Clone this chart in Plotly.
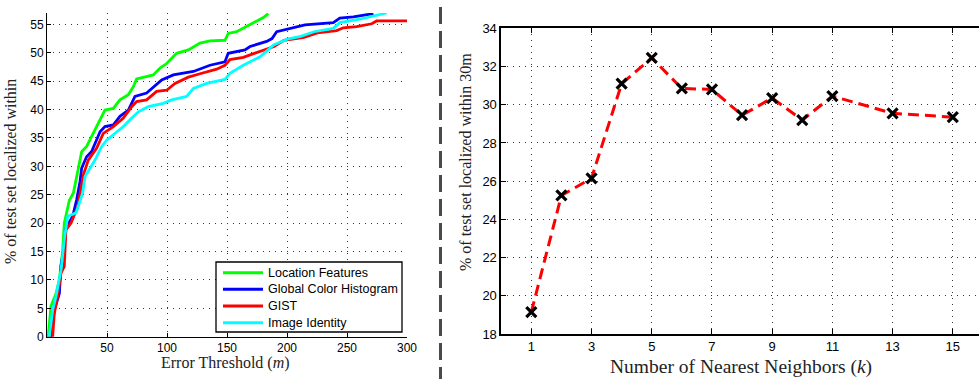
import plotly.graph_objects as go

# ---- Left panel: cumulative localization accuracy vs. error threshold ----
loc_x = [0, 1, 3.3, 7.5, 10.3, 13, 14.4, 18.6, 22, 26, 28.9, 33, 38.6, 44.2, 48.3, 55.3, 60.8, 67.8,
         71.9, 74.7, 88.6, 94.2, 99.7, 108, 117.8, 127.5, 135.8, 148.3, 151, 158, 166.4, 174.7, 180.3, 184.4]
loc_y = [0, 0, 5.4, 7.6, 10, 15, 20, 24, 25.3, 29.4, 32.6, 33.5, 35.8, 38.2, 39.9, 40.2, 41.7, 42.6,
         44, 45.4, 46.1, 47.3, 48.1, 49.9, 50.5, 51.7, 52.1, 52.2, 53.4, 53.7, 54.6, 55.5, 56.2, 56.9]

gch_x = [0, 3.3, 6.1, 10.3, 11.7, 14.4, 15.8, 21.4, 24.7, 27.5, 28.9, 33, 37.2, 41.4, 44.2, 48.3, 55.3,
         60.8, 67.8, 73.3, 83, 95.6, 105.3, 122, 135.8, 148.3, 151, 165, 169.2, 183, 187.5, 191.4, 202.5,
         215, 238.6, 244, 255.3, 269, 272]
gch_y = [0, 0, 4.7, 7.6, 12.6, 15.9, 19.1, 21.2, 24.1, 27.3, 29.7, 31.7, 32.6, 34.6, 36.1, 37, 37.3,
         38.8, 39.9, 42.3, 42.9, 45.2, 46.1, 46.7, 47.8, 48.4, 49.9, 50.5, 51.1, 52, 52.5, 53.7, 54.3,
         54.9, 55.3, 56.1, 56.3, 56.8, 56.9]

gist_x = [0, 4.7, 6.1, 8.9, 11.7, 14.4, 15.8, 20, 25.6, 27.5, 30.3, 34.4, 41.4, 46.9, 55.3, 63.6, 70.6,
          74.7, 83, 91.4, 99.7, 106.7, 117.8, 127.5, 141.4, 148.3, 152.5, 163.6, 177.5, 189.2, 197.5,
          214.2, 225.3, 241.4, 246.9, 258, 270.6, 274.7, 300]
gist_y = [0, 0, 4.1, 7.1, 11.2, 12.4, 18.8, 20, 22.9, 25.3, 28.5, 31.1, 33.2, 35.8, 37, 38.5, 40.5,
          41.4, 41.7, 43.2, 43.4, 44.6, 45.7, 46.3, 47.1, 47.8, 48.8, 49.2, 50.2, 51.1, 52.2,
          52.7, 53.5, 53.9, 54.4, 54.6, 55.1, 55.6, 55.6]

iid_x = [0, 1.9, 4.7, 7.5, 11.7, 14.4, 17.2, 24.2, 29.7, 31.7, 40, 45.6, 49.7, 56.7, 63.6, 70.6, 76.1,
         84.4, 96.9, 103.9, 116.4, 122, 133, 148.3, 152.5, 163.6, 177.5, 189.2, 200.3, 211.4, 222.5,
         238.6, 244, 260.6, 280.3, 283]
iid_y = [0, 0, 4.7, 7.1, 11.8, 17.1, 21.2, 21.8, 25.3, 28.2, 31.1, 33.5, 34.6, 35.8, 37, 38.5, 39.6,
         40.5, 41.1, 41.7, 42.3, 43.7, 44.6, 45.3, 46.4, 47.8, 49.3, 51.4, 52.4, 52.9, 53.7,
         54.3, 55.3, 55.9, 56.8, 57]

series_names = ["Location Features", "Global Color Histogram", "GIST", "Image Identity"]
series_colors = ["#00ff00", "#0000ff", "#ff0000", "#00ffff"]
left_series = list(zip(series_names,
                       [loc_x, gch_x, gist_x, iid_x],
                       [loc_y, gch_y, gist_y, iid_y],
                       series_colors))
left_xticks = [50, 100, 150, 200, 250, 300]
left_yticks = [0, 5, 10, 15, 20, 25, 30, 35, 40, 45, 50, 55]

# ---- Right panel: accuracy within 30m vs. number of nearest neighbours ----
k_values = [1, 2, 3, 4, 5, 6, 7, 8, 9, 10, 11, 13, 15]
pct_within_30m = [19.15, 25.25, 26.15, 31.1, 32.45, 30.85, 30.8, 29.45, 30.35, 29.2, 30.45, 29.55, 29.35]
right_xticks = [1, 3, 5, 7, 9, 11, 13, 15]
right_yticks = [18, 20, 22, 24, 26, 28, 30, 32, 34]

W, H = 979, 379
SANS = "Liberation Sans, Arial, sans-serif"
SERIF = "Liberation Serif, Times New Roman, serif"


def px_x(p):
    return p / W


def px_y(p):
    return (H - p) / H


fig = go.Figure()

for name, xs, ys, col in left_series:
    fig.add_trace(go.Scatter(x=xs, y=ys, mode="lines", name=name,
                             line=dict(color=col, width=2.8),
                             xaxis="x", yaxis="y", showlegend=False))

fig.add_trace(go.Scatter(x=k_values, y=pct_within_30m, mode="lines+markers",
                         showlegend=False,
                         line=dict(color="#ff0000", width=3, dash="11px,6px"),
                         marker=dict(symbol="x-thin", size=10, color="black",
                                     line=dict(color="black", width=3.2)),
                         xaxis="x2", yaxis="y2"))


def axis_style(size, lw, tl):
    return dict(showgrid=True, gridcolor="#333333", gridwidth=1, griddash="1px,5px",
                zeroline=False, showline=True, linecolor="black", linewidth=lw,
                ticks="inside", ticklen=tl, tickcolor="black", automargin=False,
                tickfont=dict(family=SANS, size=size, color="black"))


fig.update_layout(
    width=W, height=H,
    margin=dict(l=0, r=0, t=0, b=0, pad=0, autoexpand=False),
    paper_bgcolor="white", plot_bgcolor="white",
    showlegend=False,
    xaxis=dict(domain=[px_x(47), px_x(407)], range=[0, 300], tickvals=left_xticks,
               anchor="y", **axis_style(12, 1, 4)),
    yaxis=dict(domain=[px_y(336.7), px_y(13)], range=[0, 57], tickvals=left_yticks,
               anchor="x", **axis_style(12, 1, 4)),
    xaxis2=dict(domain=[px_x(501.2), 1], range=[0, 15.87], tickvals=right_xticks,
                anchor="y2", mirror="ticks", **axis_style(13, 1.5, 5)),
    yaxis2=dict(domain=[px_y(334), px_y(28.3)], range=[18, 34], tickvals=right_yticks,
                anchor="x2", **axis_style(13, 1.5, 5)),
)

# legend box for the left panel
LEG_L, LEG_R, LEG_T, LEG_B = 216, 402, 262, 332
fig.add_shape(type="rect", xref="paper", yref="paper",
              x0=px_x(LEG_L), x1=px_x(LEG_R), y0=px_y(LEG_B), y1=px_y(LEG_T),
              line=dict(color="black", width=1.3), fillcolor="white")
for i, (name, col) in enumerate(zip(series_names, series_colors)):
    yy = px_y(272.7 + i * 16.67)
    fig.add_shape(type="line", xref="paper", yref="paper",
                  x0=px_x(223), x1=px_x(263), y0=yy, y1=yy,
                  line=dict(color=col, width=3))
    fig.add_annotation(xref="paper", yref="paper", x=px_x(266), y=yy,
                       text=name, showarrow=False, xanchor="left", yanchor="middle",
                       font=dict(family=SANS, size=12.5, color="black"))

annotations = [
    dict(text="Error Threshold (<i>m</i>)", x=px_x(225), y=px_y(363)),
    dict(text="% of test set localized within", x=px_x(11), y=px_y(172), textangle=-90),
    dict(text="Number of Nearest Neighbors (<i>k</i>)", x=px_x(741), y=px_y(367), size=19.5),
    dict(text="% of test set localized within 30m", x=px_x(465), y=px_y(162), textangle=-90),
]
for a in annotations:
    size = a.pop("size", 16)
    fig.add_annotation(xref="paper", yref="paper", showarrow=False,
                       xanchor="center", yanchor="middle",
                       font=dict(family=SERIF, size=size, color="#222222"), **a)

# dashed separator between the two panels
fig.add_shape(type="line", xref="paper", yref="paper",
              x0=px_x(440.5), x1=px_x(440.5), y0=px_y(7), y1=-0.05,
              line=dict(color="#4a4a4a", width=3, dash="17px,7px"))

fig.write_html("out.html")
